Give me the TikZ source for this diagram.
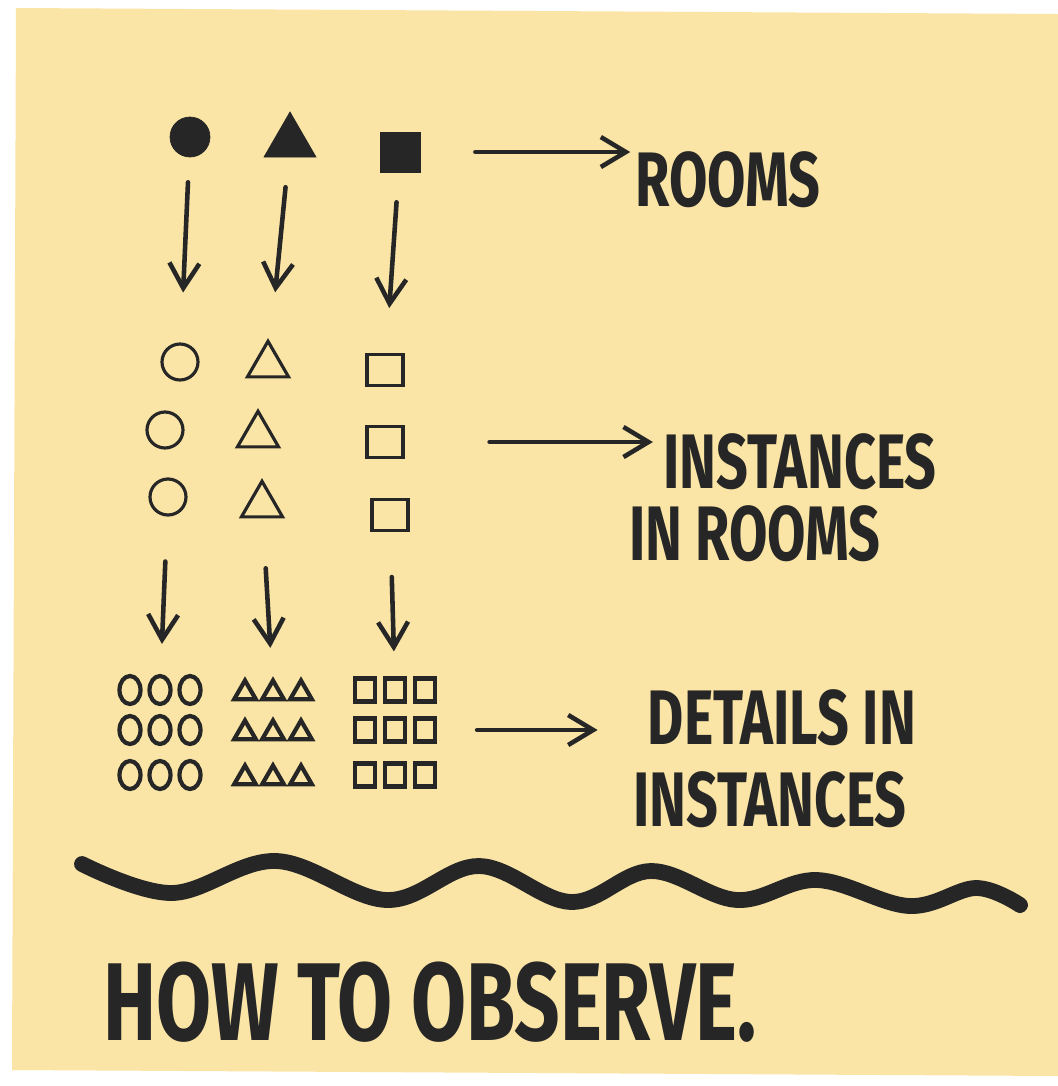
\documentclass[tikz,border=0pt]{standalone}
\usepackage{fontspec}
\setmainfont{Fira Sans}
\newfontfamily\handfont[FakeStretch=0.72]{Fira Sans}
\usetikzlibrary{arrows.meta,shapes.geometric}

\definecolor{note}{HTML}{FAE5A6}
\definecolor{ink}{HTML}{262626}

\begin{document}
\begin{tikzpicture}[x=0.02cm,y=-0.02cm,
  filled/.style={fill=ink,draw=ink,inner sep=0pt},
  hollow/.style={draw=ink,line width=1.8pt,inner sep=0pt},
  small/.style={draw=ink,line width=2.4pt,inner sep=0pt},
  arr/.style={draw=ink,line width=2.6pt,line cap=round,
    -{Straight Barb[length=0.5cm,width=0.6cm,line width=2.6pt]}},
  hand/.style={text=ink,inner sep=0pt,font=\handfont\bfseries\fontsize{44}{44}\selectfont}]

% ===== Note =====

\fill[white] (0,0) rectangle (1058,1086);
\fill[note] (16,8) -- (1058,14) -- (1058,1076) -- (12,1070) -- cycle;

% ===== Rooms =====

\node[filled,circle,minimum size=0.8cm] (r1) at (190,137) {};
\node[filled,regular polygon,regular polygon sides=3,minimum size=1.2cm] (r2) at (290,142) {};
\node[filled,rectangle,minimum size=0.8cm] (r3) at (400,152) {};

% ===== Instances =====

\foreach \xc/\yc/\xt/\yt/\xs/\ys [count=\i] in
    {180/362/268/365/385/370, 165/430/258/435/385/442, 168/497/262/505/390/515} {
  \node[hollow,circle,minimum size=0.72cm] (ic\i) at (\xc,\yc) {};
  \node[hollow,regular polygon,regular polygon sides=3,minimum size=0.95cm] (it\i) at (\xt,\yt) {};
  \node[hollow,rectangle,minimum width=0.72cm,minimum height=0.62cm] (is\i) at (\xs,\ys) {};
}

% ===== Details =====

\foreach \y [count=\j] in {690,730,775} {
  \foreach \k in {1,2,3} {
    \node[small,ellipse,minimum width=0.42cm,minimum height=0.56cm] (dc-\j-\k) at (100+30*\k,\y) {};
    \node[small,regular polygon,regular polygon sides=3,minimum size=0.5cm] (dt-\j-\k) at (217+28*\k,\y+3) {};
    \node[small,rectangle,minimum width=0.4cm,minimum height=0.46cm] (ds-\j-\k) at (335+30*\k,\y) {};
  }
}

% ===== Labels =====

\node[hand] (rooms) at (728,180) {ROOMS};
\node[hand] (inst) at (800,462) {INSTANCES};
\node[hand] (inrooms) at (755,534) {IN ROOMS};
\node[hand] (details) at (782,718) {DETAILS IN};
\node[hand] (dinst) at (770,800) {INSTANCES};
\node[hand,font=\handfont\bfseries\fontsize{63}{63}\selectfont] (title) at (430,1002) {HOW TO OBSERVE.};

% ===== Arrows =====

\draw[arr,shorten <=0.5cm,shorten >=1.0cm] (r1) -- (ic1);
\draw[arr,shorten <=0.6cm,shorten >=1.0cm] (r2) -- (it1);
\draw[arr,shorten <=0.6cm,shorten >=0.9cm] (r3) -- (is1);

\draw[arr,shorten <=0.9cm,shorten >=0.6cm] (ic3) -- (dc-1-2);
\draw[arr,shorten <=1.0cm,shorten >=0.6cm] (it3) -- (dt-1-2);
\draw[arr,shorten <=0.9cm,shorten >=0.5cm] (is3) -- (ds-1-2);

\draw[arr,shorten <=1.1cm,shorten >=0.1cm] (r3.east) -- (r3.east -| rooms.west);
\draw[arr,shorten <=1.7cm,shorten >=0.2cm] (is2.east) -- (is2.east -| inst.west);
\draw[arr,shorten <=0.8cm,shorten >=1.0cm] (ds-2-3.east) -- (ds-2-3.east -| details.west);

% ===== Wave =====

\draw[ink,line width=9pt,line cap=round] plot[smooth,tension=0.6] coordinates {
  (82,864) (172,893) (276,861) (387,900) (479,866) (571,902)
  (651,871) (737,900) (817,880) (909,906) (976,888) (1020,905)};

\end{tikzpicture}
\end{document}
